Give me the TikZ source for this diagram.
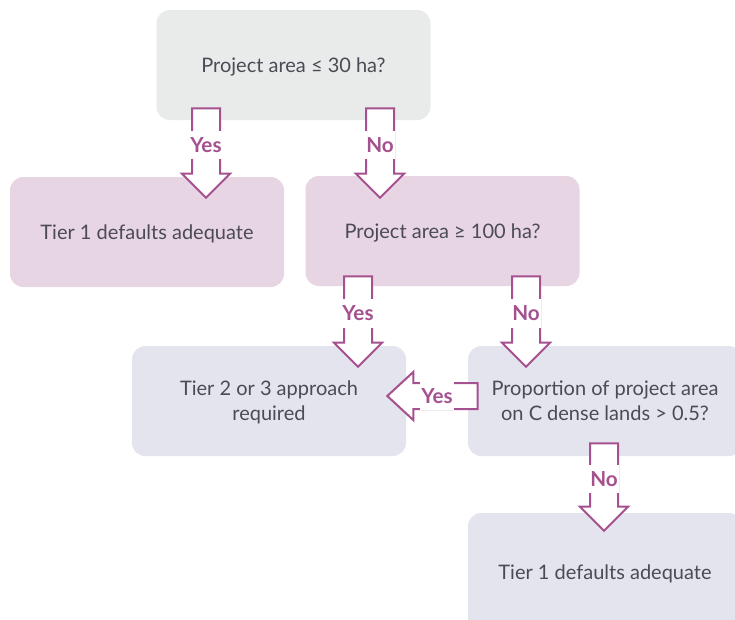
\documentclass[tikz,border=0pt]{standalone}
\usepackage{fontspec}
\setmainfont{Lato}
\usepackage{tikz}
\usetikzlibrary{calc}

\definecolor{qgrey}{HTML}{E9EAEA}
\definecolor{tierpink}{HTML}{E8D5E4}
\definecolor{tierblue}{HTML}{E3E4EE}
\definecolor{textgrey}{HTML}{4B4B55}
\definecolor{arrowpurple}{HTML}{A5508F}

\tikzset{
  box/.style={rounded corners=10pt, minimum width=205.5pt, minimum height=82.5pt,
    align=center, text depth=0pt, text=textgrey, font=\fontsize{15}{18.75}\selectfont},
  blockarrow/.style={draw=arrowpurple, line width=1.5pt, fill=white, line join=miter},
  arrowlabel/.style={fill=white, text=arrowpurple, inner xsep=1pt, inner ysep=5pt,
    font=\bfseries\fontsize{15.5}{18}\selectfont}
}

% block arrow pointing down from #1 to tip #2, label #3
\newcommand{\downblock}[3]{%
  \draw[blockarrow] ($(#1)+(-14,0)$) -- ($(#1|-#2)+(-14,-24)$) -- ($(#1|-#2)+(-24,-24)$)
    -- (#2) -- ($(#1|-#2)+(24,-24)$) -- ($(#1|-#2)+(14,-24)$) -- ($(#1)+(14,0)$) -- cycle;
  \node[arrowlabel] at ($(#1)!0.41!(#2)$) {#3};}
% block arrow pointing left from #1 to tip #2, label #3
\newcommand{\leftblock}[3]{%
  \draw[blockarrow] ($(#1)+(0,-13)$) -- ($(#2|-#1)+(26,-13)$) -- ($(#2|-#1)+(26,-24)$)
    -- (#2) -- ($(#2|-#1)+(26,24)$) -- ($(#2|-#1)+(26,13)$) -- ($(#1)+(0,13)$) -- cycle;
  \node[arrowlabel] at ($(#1)!0.45!(#2)$) {#3};}

\begin{document}
\begin{tikzpicture}[x=0.75pt, y=-0.75pt]
  \clip (0,0) rectangle (735,619);
  \fill[white] (0,0) rectangle (735,619);

  \node[box, fill=qgrey]    (area30)  at (293.5,65)  {Project area ≤ 30 ha?};
  \node[box, fill=tierpink] (tierone) at (147,232)   {Tier 1 defaults adequate};
  \node[box, fill=tierpink] (area100) at (442.5,231) {Project area ≥ 100 ha?};
  \node[box, fill=tierblue] (tiertwo) at (269,401)   {Tier 2 or 3 approach\\required};
  \node[box, fill=tierblue] (cdense)  at (605,401)   {Proportion of project area\\on C dense lands > 0.5?};
  \node[box, fill=tierblue, minimum height=88.5pt] (tierlow) at (605,572) {Tier 1 defaults adequate};

  \coordinate (yesA) at ($(area30.south)+(-87.5,-12)$);
  \coordinate (yesB) at (yesA|-{$(tierone.north)+(0,21)$});
  \coordinate (noA)  at ($(area30.south)+(86.5,-12)$);
  \coordinate (noB)  at (noA|-{$(area100.north)+(0,22)$});
  \coordinate (yesC) at ($(area100.south)+(-84.5,-10)$);
  \coordinate (yesD) at (yesC|-{$(tiertwo.north)+(0,21)$});
  \coordinate (noC)  at ($(area100.south)+(83.5,-10)$);
  \coordinate (noD)  at (noC|-{$(cdense.north)+(0,21)$});
  \coordinate (yesE) at ($(cdense.west)+(10,-5)$);
  \coordinate (yesF) at ($(tiertwo.east|-yesE)+(-19,0)$);
  \coordinate (noE)  at ($(cdense.south)+(-1,-13)$);
  \coordinate (noF)  at (noE|-{$(tierlow.north)+(0,18)$});

  \downblock{yesA}{yesB}{Yes}
  \downblock{noA}{noB}{No}
  \downblock{yesC}{yesD}{Yes}
  \downblock{noC}{noD}{No}
  \leftblock{yesE}{yesF}{Yes}
  \downblock{noE}{noF}{No}
\end{tikzpicture}
\end{document}
